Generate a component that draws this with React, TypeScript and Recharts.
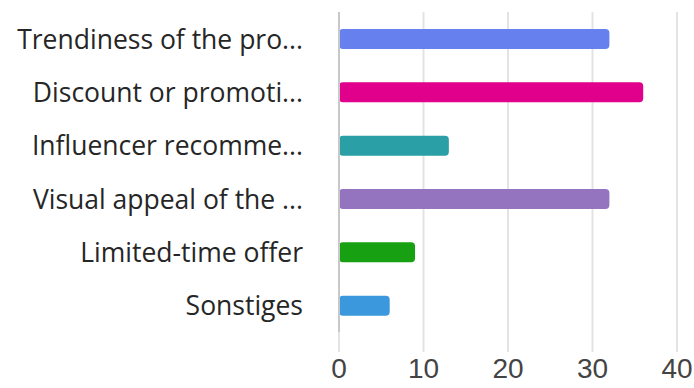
import React from "react";
import { BarChart, Bar, XAxis, YAxis, CartesianGrid, Cell } from "recharts";

const categories = [
  "Trendiness of the pro...",
  "Discount or promoti...",
  "Influencer recomme...",
  "Visual appeal of the ...",
  "Limited-time offer",
  "Sonstiges",
];
const counts = [32, 36, 13, 32, 9, 6];
const barColors = ["#6680ee", "#e0008c", "#2a9fa5", "#9474be", "#17a012", "#3c98dc"];
const xTicks = [0, 10, 20, 30, 40];

const data = categories.map((name, i) => ({ name, value: counts[i] }));

const CategoryTick = (props: any) => {
  const { x, y, payload } = props;
  return (
    <text
      x={x}
      y={y}
      textAnchor="end"
      dominantBaseline="central"
      fill="#262626"
      fontSize={26.5}
      fontFamily="'Open Sans', sans-serif"
    >
      {payload.value}
    </text>
  );
};

const ValueTick = (props: any) => {
  const { x, y, payload } = props;
  return (
    <text
      x={x}
      y={y + 24}
      textAnchor="middle"
      fill="#444"
      fontSize={28}
      fontFamily="'Liberation Sans', Arial, sans-serif"
    >
      {payload.value}
    </text>
  );
};

export default function App() {
  return (
    <div style={{ position: "absolute", left: 0, top: 0, background: "#fff" }}>
      <BarChart
        width={694}
        height={388}
        data={data}
        layout="vertical"
        margin={{ top: 12, right: 17, left: 0, bottom: 0 }}
        barCategoryGap={0}
      >
        <CartesianGrid horizontal={false} vertical stroke="#e3e3e3" strokeWidth={2} />
        <XAxis
          type="number"
          domain={[0, 40]}
          ticks={xTicks}
          height={56}
          axisLine={false}
          tickSize={20}
          tickLine={{ stroke: "#e3e3e3", strokeWidth: 2 }}
          tick={<ValueTick />}
          interval={0}
        />
        <YAxis
          type="category"
          dataKey="name"
          width={339}
          axisLine={{ stroke: "#c8c8c8", strokeWidth: 2 }}
          tickLine={false}
          tickSize={0}
          tickMargin={36}
          tick={<CategoryTick />}
          interval={0}
        />
        <Bar dataKey="value" barSize={20} radius={4} isAnimationActive={false}>
          {data.map((d, i) => (
            <Cell key={d.name} fill={barColors[i]} />
          ))}
        </Bar>
      </BarChart>
    </div>
  );
}
